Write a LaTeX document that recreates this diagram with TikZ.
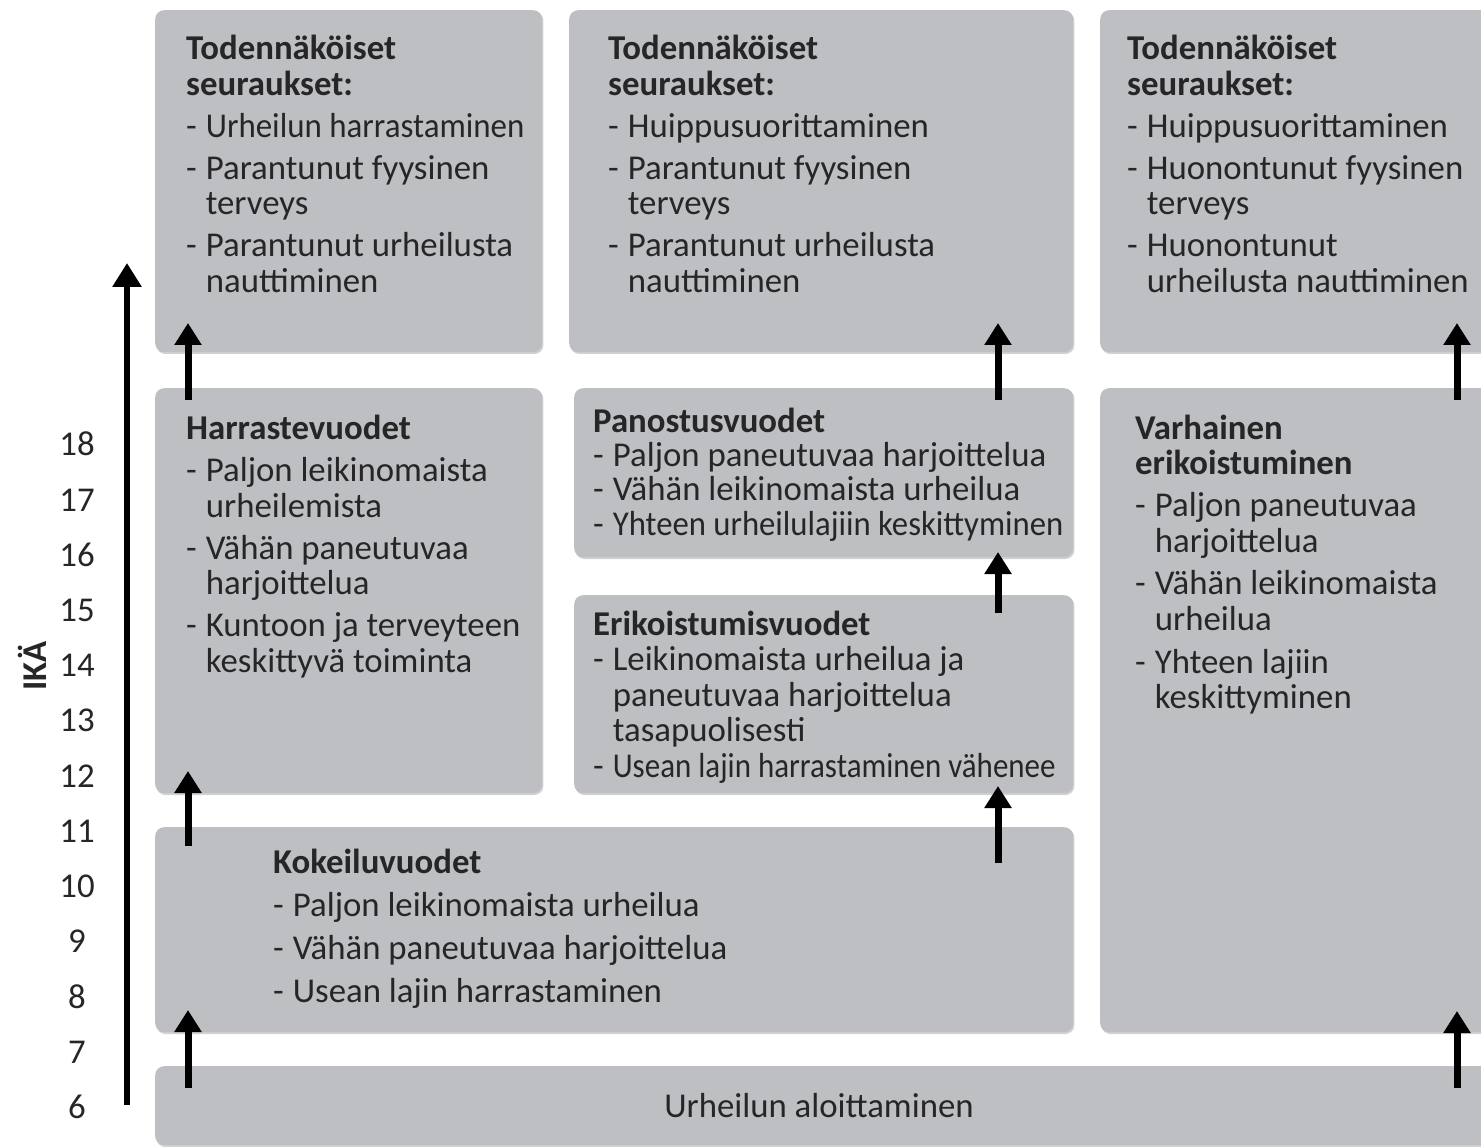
\documentclass[tikz,border=0pt]{standalone}
\usepackage{graphicx}
\usepackage{fontspec}
\setmainfont{Carlito}
\usetikzlibrary{arrows.meta,shadows}
\definecolor{boxgray}{RGB}{189,191,195}
\definecolor{textgray}{RGB}{38,38,38}
\newcommand\blkfont{\fontsize{34.8}{35.5}\selectfont}
\newenvironment{blk}{\begin{tabular}[t]{@{}l@{\hspace{9pt}}l@{}}}{\end{tabular}}
\newcommand\ttl[1]{\multicolumn{2}{@{}l@{}}{\bfseries #1}}
\newcommand\cnd[2]{\scalebox{#1}[1]{#2}}
\begin{document}
\begin{tikzpicture}[x=1pt,y=-1pt,
  box/.style={draw=none,fill=boxgray,rounded corners=9pt,anchor=north west,inner sep=0pt,
    drop shadow={shadow xshift=1.2pt,shadow yshift=-1.8pt,opacity=0.18,fill=black}},
  blocktext/.style={inner sep=0pt,anchor=base west,text=textgray,font=\blkfont},
  agenum/.style={inner sep=0pt,anchor=base,text=textgray,font=\blkfont},
  uparrow/.style={line width=7pt,-{Triangle[width=26pt,length=22pt]},black},
  axisarrow/.style={line width=6.5pt,-{Triangle[width=28pt,length=24pt]},black}]
\useasboundingbox (0,0) rectangle (1481,1147);
\fill[white] (0,0) rectangle (1481,1147);

% boxes
\node[box,minimum width=387pt,minimum height=342pt] (top1) at (155,10) {};
\node[box,minimum width=504pt,minimum height=342pt] (top2) at (569,10) {};
\node[box,minimum width=400pt,minimum height=342pt] (top3) at (1100,10) {};
\node[box,minimum width=387pt,minimum height=405pt] (harr) at (155,388) {};
\node[box,minimum width=499pt,minimum height=169pt] (pan) at (574,388) {};
\node[box,minimum width=499pt,minimum height=198pt] (eri) at (574,595) {};
\node[box,minimum width=400pt,minimum height=644pt] (var) at (1100,388) {};
\node[box,minimum width=918pt,minimum height=205pt] (kok) at (155,827) {};
\node[box,minimum width=1345pt,minimum height=79pt] (urh) at (155,1066) {};

% texts
\node[blocktext] (t1) at (186,60) {\begin{blk}
\ttl{Todennäköiset}\\
\ttl{seuraukset:}\\[6.5pt]
- & \cnd{0.947}{Urheilun harrastaminen}\\[6.5pt]
- & Parantunut fyysinen\\
  & terveys\\[6.5pt]
- & Parantunut urheilusta\\
  & nauttiminen
\end{blk}};
\node[blocktext] (t2) at (608,60) {\begin{blk}
\ttl{Todennäköiset}\\
\ttl{seuraukset:}\\[6.5pt]
- & Huippusuorittaminen\\[6.5pt]
- & Parantunut fyysinen\\
  & terveys\\[6.5pt]
- & Parantunut urheilusta\\
  & nauttiminen
\end{blk}};
\node[blocktext] (t3) at (1127,60) {\begin{blk}
\ttl{Todennäköiset}\\
\ttl{seuraukset:}\\[6.5pt]
- & Huippusuorittaminen\\[6.5pt]
- & Huonontunut fyysinen\\
  & terveys\\[6.5pt]
- & Huonontunut\\
  & urheilusta nauttiminen
\end{blk}};
\node[blocktext] (tharr) at (186,439) {\begin{blk}
\ttl{Harrastevuodet}\\[7.5pt]
- & Paljon leikinomaista\\
  & urheilemista\\[6.5pt]
- & Vähän paneutuvaa\\
  & harjoittelua\\[6.5pt]
- & Kuntoon ja terveyteen\\
  & keskittyvä toiminta
\end{blk}};
\node[blocktext] (tpan) at (593,432) {\begin{blk}
\ttl{Panostusvuodet}\\[-1pt]
- & Paljon paneutuvaa harjoittelua\\[-1pt]
- & Vähän leikinomaista urheilua\\[-1pt]
- & \cnd{0.94}{Yhteen urheilulajiin keskittyminen}
\end{blk}};
\node[blocktext] (teri) at (593,635) {\begin{blk}
\ttl{Erikoistumisvuodet}\\
- & Leikinomaista urheilua ja\\
  & paneutuvaa harjoittelua\\
  & tasapuolisesti\\
- & \cnd{0.89}{Usean lajin harrastaminen vähenee}
\end{blk}};
\node[blocktext] (tvar) at (1135,439) {\begin{blk}
\ttl{Varhainen}\\
\ttl{erikoistuminen}\\[6.5pt]
- & Paljon paneutuvaa\\
  & harjoittelua\\[7.5pt]
- & Vähän leikinomaista\\
  & urheilua\\[7.5pt]
- & Yhteen lajiin\\
  & keskittyminen
\end{blk}};
\node[blocktext] (tkok) at (273,873) {\begin{blk}
\ttl{Kokeiluvuodet}\\[7.5pt]
- & Paljon leikinomaista urheilua\\[7.5pt]
- & Vähän paneutuvaa harjoittelua\\[7.5pt]
- & Usean lajin harrastaminen
\end{blk}};
\node[blocktext,anchor=base] (turh) at (819,1117) {Urheilun aloittaminen};

% ages
\foreach \a/\yy in {18/445,17/500,16/555,15/610,14/665,13/720,12/776,11/831,10/886,9/941,8/997,7/1052,6/1107}
  \node[agenum] (age\a) at (77,\yy+11) {\a};
\node[text=textgray,font=\blkfont\bfseries,rotate=90,inner sep=0pt] (ika) at (32,666) {IKÄ};

% axis arrow
\coordinate (axs) at (127,1105);
\coordinate (axe) at (127,263);
\draw[axisarrow] (axs) -- (axe);

% arrows
\coordinate (a1s) at (188,400);  \coordinate (a1e) at (188,323);
\coordinate (a2s) at (188,846);  \coordinate (a2e) at (188,771);
\coordinate (a3s) at (188,1088); \coordinate (a3e) at (188,1010);
\coordinate (a4s) at (998,400);  \coordinate (a4e) at (998,323);
\coordinate (a5s) at (998,613);  \coordinate (a5e) at (998,552);
\coordinate (a6s) at (998,863);  \coordinate (a6e) at (998,786);
\coordinate (a7s) at (1457,400); \coordinate (a7e) at (1457,323);
\coordinate (a8s) at (1457,1088);\coordinate (a8e) at (1457,1011);
\foreach \i in {1,...,8} \draw[uparrow] (a\i s) -- (a\i e);
\end{tikzpicture}
\end{document}
